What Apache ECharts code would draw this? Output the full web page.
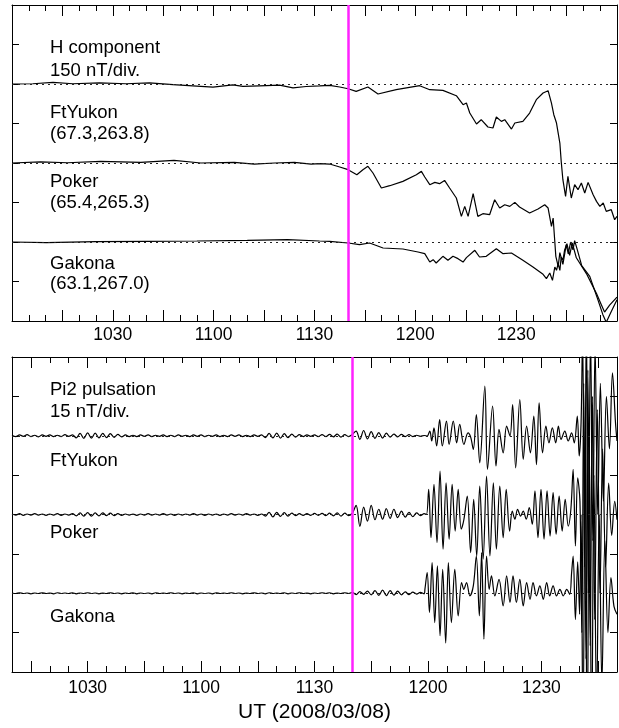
<!DOCTYPE html>
<html><head><meta charset="utf-8">
<script src="https://cdn.jsdelivr.net/npm/echarts@6.0.0/dist/echarts.min.js"></script>
<style>html,body{margin:0;padding:0;background:#fff}#chart{width:619px;height:728px}</style>
</head><body><div id="chart"></div>
<script>
// ---------------- DATA ----------------
// time in minutes of day (UT); 600 = 10:00
const ONSET_UT = 700; // 11:40 (magenta line)
const tickLabelTimes = [630, 660, 690, 720, 750];          // 1030 .. 1230
const majorTickTimes = [615, 630, 645, 660, 675, 690, 705, 720, 735, 750, 765];
const H_RANGE = [600, 780];
const PI2_RANGE = [610, 770];

// H component (nT deviation from each station's baseline), [UT min, nT]
const ftyukonH = [[600,0],[606.2,1],[612.2,6],[618.1,1],[626,4],[633.9,1],[640.9,4],[647.9,-2.5],[653.8,-7],[659.8,-12],[665.7,-3],[668.7,-9],[673.6,-7],[679.6,-4.4],[683.6,-14.5],[687.5,-9.5],[691.5,-7],
[694.5,-5],[697.5,-11.5],[700,-17.9],[702.4,-28],[705.9,-11.5],[708.9,-38],[714.3,-21.6],[721.3,-6.5],[724.3,-21.6],[728.2,-24.2],[732.2,-44.4],[734.2,-78.6],[735.2,-72.3],[736.2,-110],[738.2,-152],[739.6,-135.6],[741.6,-163.4],[743.1,-167.2],[744.1,-125.4],[745.6,-141.9],[746.6,-135.6],[748.6,-171],[749.6,-148.2],[752,-141.9],[754,-110.3],[756,-59.6],[758,-34.3],[759.5,-25.4],[760.5,-72.3],[761.2,-116.6],[762,-148.2],[762.5,-186.2],[763,-224.2],[763.4,-293.8],[763.9,-363.4],[764.7,-426.7],[765.4,-350.8],[766.4,-433],[767.4,-382.4],[768.4,-401.4],[769.4,-376],[770.4,-414],[771.4,-373.5],[772.9,-420.4],[773.9,-445.7],[774.9,-464.7],[775.9,-452],[776.8,-483.7],[778.3,-477.3],[779.3,-515.3],[780,-502.6]];
const pokerH = [[600,0],[608.5,4],[616.5,1],[626.4,6],[638.3,2.5],[648.2,10],[656.2,0],[666.1,2.5],[672.1,-4],[678.1,0],[684,2.5],[689,-4],[691.5,-2.5],
[694.5,-3.9],[697.5,-15.3],[700,-25.4],[702.6,-44.4],[704.4,-25.4],[705.9,-12.8],[707.4,-38],[709.9,-95],[712.4,-86.2],[716.3,-69.7],[720.3,-44.4],[721.8,-31.8],[722.8,-53.3],[724.3,-82.4],[725.8,-73.5],[727.2,-78.6],[728.7,-66],[730.2,-95],[732.2,-133],[733.7,-202.6],[734.7,-164.7],[735.7,-202.6],[737.2,-116.6],[738.6,-202.6],[740.1,-192.5],[742.1,-196.3],[743.6,-139.4],[745.1,-171],[746.6,-158.4],[748.1,-164.7],[749.6,-149.5],[751,-167.2],[754,-190],[756.5,-174.8],[758.5,-158.4],[759.5,-171],[760,-164.7],[760.5,-240.6],[761,-209],[761.8,-354.5],[762.5,-392.5],[763,-340],[763.9,-385],[764.9,-310],[765.5,-345],[766.2,-300],[766.9,-330],[767.4,-295],[768.2,-330],[769.5,-390],[771.9,-430.6],[774.3,-519],[775.8,-576],[776.8,-605],[778.3,-563.5],[780,-519]];
const gakonaH = [[600,0],[610.2,-2.5],[625,1.3],[640,2.5],[655,3.8],[670,6.3],[682,8.9],[691.5,3.8],
[694.5,2.5],[700,-3.8],[703.4,-10],[706.4,-3.8],[710.4,-22.8],[716.3,-26.6],[720.8,-38],[721.3,-31.6],[722.8,-44.3],[724.3,-76],[725.3,-67],[726.2,-79.7],[728.2,-54.4],[729.7,-69.6],[731.2,-54.4],[732.7,-63.3],[734.2,-76],[735.2,-59.5],[737.7,-31.6],[739.1,-57],[741.1,-54.4],[744.1,-25.3],[746.1,-44.3],[748.6,-41.8],[752,-69.6],[755,-94.9],[758,-122.8],[759,-139.2],[760,-117.7],[760.8,-145.6],[761.5,-94.9],[762,-107.6],[762.5,-82.3],[763,-107.6],[763.4,-57],[763.9,-69.6],[764.4,-31.6],[765.1,-6.3],[765.9,-50.6],[766.7,-3.8],[767.9,-60],[770.9,-120],[773.9,-196],[775.4,-240],[776.3,-266],[777.8,-240],[780,-209]];

// Pi2 pulsation (nT). Quiet part sampled every minute from 610, then [UT min, nT] pairs
const PI2_QUIET_START = 610, PI2_QUIET_STEP = 1;
const ftyukonPi2Quiet = [0.2,-0.3,0.3,-0.2,0.4,-0.3,0.2,-0.4,0.3,-0.2,0.3,-0.3,0.2,-0.3,0.4,-0.2,0.3,
-0.8,0.9,-1.0,1.1,-0.9,1.0,-0.8,0.9,-0.7,0.8,-0.6,0.5,-0.4,
0.3,-0.3,0.2,-0.3,0.3,-0.2,0.3,-0.3,0.2,-0.2,0.3,-0.3,0.2,-0.3,0.3,-0.2,0.2,-0.3,0.3,-0.2,0.3,-0.3,0.2,-0.2,0.3,-0.3,0.2,-0.3,0.3,-0.2,0.3,-0.3,0.2,-0.3,0.3,-0.2,0.3,
-0.7,0.9,-0.8,1.0,-0.9,0.8,-0.7,0.6,-0.5,0.4,
-0.3,0.3,-0.2,0.3,-0.3,0.4,-0.3,0.5,-0.4,0.6,-0.5,0.4,-0.3,
0.5,1.8,-1.4,2.0,-1.2,1.6,-1.0,1.2,-0.9,1.0,-0.5,0.6,-0.4,0.5,-0.3,0.4,-0.3,0.2,-0.2,0.1];
const pokerPi2Quiet = [0.2,-0.2,0.3,-0.3,0.2,-0.2,0.3,-0.2,0.2,-0.3,0.2,-0.2,0.3,-0.3,0.2,-0.2,0.3,
-0.5,0.6,-0.6,0.7,-0.6,0.6,-0.5,0.6,-0.4,0.5,-0.4,0.3,-0.3,
0.2,-0.2,0.2,-0.3,0.2,-0.2,0.3,-0.2,0.2,-0.2,0.3,-0.2,0.2,-0.3,0.2,-0.2,0.2,-0.2,0.3,-0.2,0.2,-0.3,0.2,-0.2,0.2,-0.3,0.2,-0.2,0.3,-0.2,0.2,-0.2,0.3,-0.2,0.2,-0.3,0.2,
-0.6,0.8,-0.9,0.8,-0.7,0.7,-0.6,0.5,-0.4,0.3,
-0.3,0.3,-0.3,0.4,-0.3,0.4,-0.4,0.5,-0.5,0.6,-0.6,0.5,-0.4,
0.5,3.5,-4.5,2.8,-2.5,3.5,-2.0,2.0,-1.8,2.2,-1.5,2.0,-1.2,1.3,-1.0,0.8,-0.8,0.6,-0.4,0.3];
const gakonaPi2Quiet = [0.1,-0.1,0.2,-0.1,0.1,-0.2,0.1,-0.1,0.2,-0.1,
0.1,-0.2,0.2,-0.1,0.1,-0.1,0.2,-0.2,0.1,-0.1,
0.2,-0.1,0.1,-0.2,0.1,-0.1,0.2,-0.1,0.1,-0.2,
0.1,-0.1,0.2,-0.2,0.1,-0.1,0.1,-0.2,0.2,-0.1,
0.1,-0.1,0.2,-0.1,0.1,-0.2,0.1,-0.1,0.2,-0.2,
0.1,-0.1,0.1,-0.2,0.2,-0.1,0.1,-0.1,0.2,-0.1,
0.1,-0.2,0.1,-0.1,0.2,-0.1,0.1,-0.2,0.2,-0.1,
0.1,-0.1,0.2,-0.2,0.1,-0.1,0.2,-0.1,0.1,-0.2,
0.1,-0.1,0.2,-0.1,0.2,-0.2,0.1,-0.1,0.2,-0.1,
0.3,-0.5,0.6,-0.4,0.8,-0.6,1.0,-0.8,1.2,-0.9,1.0,-0.7,0.8,-0.6,0.5,-0.5,0.4,-0.3,0.3,-0.2];
const ftyukonPi2Active = [[719.8,-0.1],[720.5,1.8],[721.0,-2.0],[721.6,3.0],[722.3,-3.9],[723.1,6.2],[723.8,-3.9],[724.9,5.6],[725.6,-3.3],[726.7,5.6],[727.6,-2.7],[728.4,4.3],[729.5,-3.3],[730.6,1.1],[731.3,-0.5],[732.0,-5.2],[732.8,8.1],[733.7,-10.3],[735.05,18.9],[735.75,-12.8],[737.1,11.3],[738.0,-11.5],[738.8,2.4],[739.9,-6.5],[740.8,3.7],[741.7,-0.1],[742.4,11.9],[743.2,-12.2],[744.3,13.8],[745.2,-9.0],[746.1,3.7],[747.1,-6.5],[748.0,7.5],[748.7,-11.0],[749.4,12.5],[750.3,-6.5],[751.2,3.7],[752.0,-2.7],[752.9,3.0],[753.8,-2.7],[754.5,3.7],[755.2,-1.4],[756.2,1.8],[757.1,-2.0],[758.0,1.1],[758.7,-2.7],[759.5,7.5],[760.0,-7.7],[760.5,5],[760.9,40],[761.4,-50],[761.9,45],[762.4,-60],[763.0,40],[763.6,-40],[764.2,35],[764.9,-30],[765.6,20],[766.4,-25],[767.2,15],[768.0,-5],[768.8,24],[769.6,5],[770,-2]];
const pokerPi2Active = [[719.6,0],[720.2,9.6],[720.8,-8.8],[721.6,11.5],[722.4,-10.7],[723.2,16.5],[724.0,-13.2],[724.8,12.1],[725.6,-9.4],[726.4,11.5],[727.2,-6.3],[728.0,9.6],[728.8,-5.6],[729.5,-2.0],[730.4,7.0],[731.3,-14.5],[732.1,5.8],[732.9,-15.8],[733.7,10.8],[734.6,-17.0],[735.5,14.6],[736.4,-15.8],[737.3,12.1],[738.1,-13.2],[739.0,10.8],[739.9,-8.8],[740.7,9.6],[741.6,-6.3],[742.3,1.3],[743.0,-1.8],[743.7,2.0],[744.5,-0.6],[745.2,1.3],[746.0,-1.8],[746.8,2.6],[747.6,-3.7],[748.3,9.0],[749.1,-8.8],[749.9,9.6],[750.7,-9.4],[751.5,9.0],[752.3,-8.2],[753.1,8.3],[753.9,-7.5],[754.7,7.0],[755.5,-6.3],[756.3,5.8],[757.1,-4.4],[757.8,2.0],[758.4,17.2],[759.0,-12],[759.6,14],[760.2,5],[760.7,-45],[761.2,50],[761.8,-55],[762.3,55],[762.9,-50],[763.5,45],[764.1,-40],[764.8,40],[765.5,-30],[766.2,25],[767.0,-20],[767.8,12],[768.6,-8],[769.4,5],[770,-2]];
const gakonaPi2Active = [[719.2,1.5],[719.8,7.9],[720.4,-7.3],[721.1,11.7],[721.8,-11.2],[722.5,10.4],[723.2,-16.2],[723.9,9.1],[724.7,-19.0],[725.4,11.7],[726.2,-11.2],[727.1,9.1],[728.0,-8.6],[728.9,4.1],[729.5,1.5],[730.2,4.1],[731.1,-1.0],[732.0,2.8],[732.8,14.2],[733.6,-8.6],[734.2,15.5],[734.8,-17.5],[735.5,14.2],[736.2,1.5],[736.8,6.6],[737.7,-1.0],[738.8,5.3],[739.9,-4.8],[740.8,6.6],[741.7,-3.5],[742.5,6.6],[743.4,-3.5],[744.3,5.3],[745.2,-4.8],[746.1,4.1],[747.0,-2.3],[747.8,4.1],[748.7,-1.0],[749.6,2.8],[750.5,-2.3],[751.4,4.1],[752.2,-1.0],[753.1,2.8],[754.0,-1.0],[754.9,1.5],[755.8,-1.0],[756.7,1.5],[757.5,-0.4],[758.0,7.9],[758.4,14.2],[759.0,-10],[759.6,12],[760.1,-8],[760.5,30],[761.0,-55],[761.6,60],[762.1,-65],[762.7,55],[763.3,-60],[763.9,45],[764.6,-45],[765.3,30],[766.0,-35],[766.8,20],[767.6,-15],[768.4,6],[769.2,-5],[770,-8]];

const stationNames = ['FtYukon', 'Poker', 'Gakona'];
const stationCoords = ['(67.3,263.8)', '(65.4,265.3)', '(63.1,267.0)'];
const H_OFFSETS = [-300, -600, -900];   // 150 nT/div, stacked
const PI2_OFFSETS = [-30, -60, -90];    // 15 nT/div, stacked
const hTitle = ['H component', '150 nT/div.'];
const pi2Title = ['Pi2 pulsation', '15 nT/div.'];
const xAxisTitle = 'UT (2008/03/08)';

// ---------------- CHART ----------------
const FONT = '"Liberation Sans", Arial, Helvetica, sans-serif';
const fmt = v => String(Math.floor(v / 60) * 100 + (v % 60));
function minorTicks(r) { const a = []; for (let t = r[0] + 5; t < r[1]; t += 5) if (t % 15 !== 0) a.push(t); return a; }

function xAxes(gi, r, margin) {
  const base = { gridIndex: gi, type: 'value', min: r[0], max: r[1], splitLine: { show: false } };
  const minors = minorTicks(r);
  const majors = majorTickTimes.filter(t => t > r[0] && t < r[1]);
  return [
    Object.assign({}, base, { position: 'bottom',
      axisLine: { show: true, onZero: false, lineStyle: { color: '#000', width: 1 } },
      axisTick: { show: true, inside: true, length: 11, customValues: majors, lineStyle: { color: '#000', width: 1 } },
      axisLabel: { show: true, customValues: tickLabelTimes, formatter: fmt, margin: margin, color: '#000', fontSize: 17.5, fontFamily: FONT } }),
    Object.assign({}, base, { position: 'bottom',
      axisLine: { show: false, onZero: false },
      axisTick: { show: true, inside: true, length: 6, customValues: minors, lineStyle: { color: '#000', width: 1 } },
      axisLabel: { show: false } }),
    Object.assign({}, base, { position: 'top',
      axisLine: { show: true, onZero: false, lineStyle: { color: '#000', width: 1 } },
      axisTick: { show: true, inside: true, length: 11, customValues: majors, lineStyle: { color: '#000', width: 1 } },
      axisLabel: { show: false } }),
    Object.assign({}, base, { position: 'top',
      axisLine: { show: false, onZero: false },
      axisTick: { show: true, inside: true, length: 6, customValues: minors, lineStyle: { color: '#000', width: 1 } },
      axisLabel: { show: false } })
  ];
}
function yAxes(gi, min, max, interval) {
  const base = { gridIndex: gi, type: 'value', min, max, interval, splitLine: { show: false }, axisLabel: { show: false },
    axisLine: { show: true, onZero: false, lineStyle: { color: '#000', width: 1 } },
    axisTick: { show: true, inside: true, length: 7, lineStyle: { color: '#000', width: 1 } } };
  return [Object.assign({}, base, { position: 'left' }), Object.assign({}, base, { position: 'right' })];
}

function traceSeries(xi, yi, data, base, smooth) {
  return {
    type: 'line', xAxisIndex: xi, yAxisIndex: yi, data: data, showSymbol: false, symbol: 'none',
    smooth: smooth, lineStyle: { color: '#000', width: 1.2 }, clip: true, silent: true, animation: false, z: 2,
    markLine: { silent: true, symbol: ['none', 'none'], label: { show: false }, animation: false,
      lineStyle: { color: '#222', width: 1, type: [2, 4] }, data: [{ yAxis: base }] }
  };
}
function onsetSeries(xi, yi) {
  return { type: 'line', xAxisIndex: xi, yAxisIndex: yi, data: [], z: 10, silent: true, animation: false,
    markLine: { silent: true, symbol: ['none', 'none'], label: { show: false }, animation: false,
      lineStyle: { color: '#ff22ff', width: 2.5, type: 'solid' }, data: [{ xAxis: ONSET_UT }] } };
}

const hData = [ftyukonH, pokerH, gakonaH];
const pi2Quiet = [ftyukonPi2Quiet, pokerPi2Quiet, gakonaPi2Quiet];
const pi2Active = [ftyukonPi2Active, pokerPi2Active, gakonaPi2Active];

const series = [];
hData.forEach((d, i) => series.push(traceSeries(0, 0, d.map(p => [p[0], p[1] + H_OFFSETS[i]]), H_OFFSETS[i], false)));
series.push(onsetSeries(0, 0));
pi2Quiet.forEach((q, i) => {
  const d = q.map((v, k) => [PI2_QUIET_START + k * PI2_QUIET_STEP, v + PI2_OFFSETS[i]])
    .concat(pi2Active[i].map(p => [p[0], p[1] + PI2_OFFSETS[i]]));
  series.push(traceSeries(4, 2, d, PI2_OFFSETS[i], 0.35));
});
series.push(onsetSeries(4, 2));

// text annotations
const txt = (s, x, y, size) => ({ type: 'text', x: x, y: y, silent: true,
  style: { text: s, fill: '#000', fontSize: size || 18.5, fontFamily: FONT, align: 'left', verticalAlign: 'middle' } });
const LX = 50;
const graphic = [
  txt(hTitle[0], LX, 48), txt(hTitle[1], LX, 71),
  txt(stationNames[0], LX, 113), txt(stationCoords[0], LX, 134),
  txt(stationNames[1], LX, 182), txt(stationCoords[1], LX, 203),
  txt(stationNames[2], LX, 264), txt(stationCoords[2], LX, 284),
  txt(pi2Title[0], LX, 390), txt(pi2Title[1], LX, 411.5),
  txt(stationNames[0], LX, 460.5), txt(stationNames[1], LX, 533), txt(stationNames[2], LX, 616.5),
  { type: 'text', x: 314.5, y: 712, silent: true,
    style: { text: xAxisTitle, fill: '#000', fontSize: 21, fontFamily: FONT, align: 'center', verticalAlign: 'middle' } }
];

const chart = echarts.init(document.getElementById('chart'), null, { renderer: 'canvas' });
chart.setOption({
  animation: false,
  backgroundColor: '#fff',
  grid: [
    { left: 12, top: 5, width: 605, height: 316 },
    { left: 12, top: 357, width: 605, height: 315 }
  ],
  xAxis: xAxes(0, H_RANGE, 5).concat(xAxes(1, PI2_RANGE, 7)),
  yAxis: yAxes(0, -1200, 0, 150).concat(yAxes(1, -120, 0, 15)),
  series: series,
  graphic: graphic
});
</script></body></html>
